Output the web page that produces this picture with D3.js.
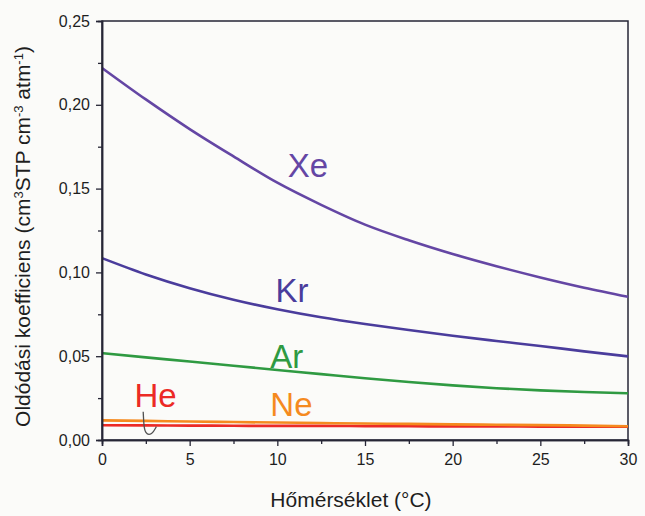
<!DOCTYPE html>
<html><head><meta charset="utf-8">
<script src="https://cdn.jsdelivr.net/npm/d3@7/dist/d3.min.js"></script>
<style>
html,body{margin:0;padding:0;background:#fbfbf9;}
svg{display:block;font-family:"Liberation Sans",Arial,sans-serif;}
</style></head>
<body><svg id="c" width="645" height="516"></svg>
<script>
// Data
const temps = [0, 2.5, 5, 7.5, 10, 12.5, 15, 17.5, 20, 22.5, 25, 27.5, 30];
const xeVals = [0.222, 0.2032, 0.1855, 0.1692, 0.1535, 0.1403, 0.1285, 0.1192, 0.111, 0.1037, 0.097, 0.0909, 0.0855];
const krVals = [0.1085, 0.0988, 0.0906, 0.0837, 0.0780, 0.0732, 0.0692, 0.0656, 0.0622, 0.0591, 0.0561, 0.0529, 0.0499];
const arVals = [0.0518, 0.0493, 0.0468, 0.0443, 0.0418, 0.0393, 0.0368, 0.0346, 0.0326, 0.0309, 0.0296, 0.0286, 0.0279];
const neVals = [0.0117, 0.0114, 0.0110, 0.0107, 0.0104, 0.0101, 0.0098, 0.0096, 0.0093, 0.0091, 0.0089, 0.0086, 0.0082];
const heVals = [0.0088, 0.0087, 0.0086, 0.0085, 0.0084, 0.0084, 0.0083, 0.0082, 0.0081, 0.0081, 0.0080, 0.0080, 0.0079];
const xTicks = [0, 5, 10, 15, 20, 25, 30];
const yTicks = [0, 0.05, 0.10, 0.15, 0.20, 0.25];
const seriesNames = ["He", "Ne", "Ar", "Kr", "Xe"];
const seriesColors = ["#ec2a25", "#f58a1f", "#2f9a42", "#4a3c9c", "#6446a4"];
// label anchor positions in data units
const labelT = [1.85, 9.6, 9.6, 9.9, 10.6];
const labelV = [0.0197, 0.0143, 0.0430, 0.0823, 0.1570];

const svg = d3.select("#c");
const m = {l:102, r:628, t:21, b:440};
const x = d3.scaleLinear().domain([0,30]).range([m.l, m.r]);
const y = d3.scaleLinear().domain([0,0.25]).range([m.b, m.t]);
const axisColor = "#262636";

const series = [heVals, neVals, arVals, krVals, xeVals];

// frame
svg.append("rect").attr("x", m.l).attr("y", m.t).attr("width", m.r-m.l).attr("height", m.b-m.t)
  .attr("fill","none").attr("stroke",axisColor).attr("stroke-width",1.5);

// lines
const line = d3.line().x((d,i)=>x(temps[i])).y(d=>y(d)).curve(d3.curveMonotoneX);
series.forEach((vals,i)=>{
  svg.append("path").datum(vals).attr("d", line).attr("fill","none")
    .attr("stroke", seriesColors[i]).attr("stroke-width", 2.6);
});

// axes
const xAxis = d3.axisBottom(x).tickValues(xTicks).tickSize(6).tickPadding(8).tickFormat(d3.format("d"));
const xMinor = d3.axisBottom(x).tickValues(d3.range(2.5,30,5)).tickSize(4).tickFormat("");
const yFmt = d => d3.format(".2f")(d).replace(".", ",");
const yAxis = d3.axisLeft(y).tickValues(yTicks).tickSize(6).tickPadding(6).tickFormat(yFmt);
const yMinor = d3.axisLeft(y).tickValues(d3.range(0.025,0.25,0.05)).tickSize(4).tickFormat("");

function style(g){
  g.select(".domain").attr("stroke",axisColor).attr("stroke-width",1.5);
  g.selectAll(".tick line").attr("stroke",axisColor).attr("stroke-width",1.3);
  g.selectAll(".tick text").attr("fill","#1e1e1e").style("font-size","16px")
    .style("font-family","'Liberation Sans',Arial,sans-serif");
}
svg.append("g").attr("transform",`translate(0,${m.b})`).call(xAxis).call(style);
svg.append("g").attr("transform",`translate(0,${m.b})`).call(xMinor).call(style);
svg.append("g").attr("transform",`translate(${m.l},0)`).call(yAxis).call(style);
svg.append("g").attr("transform",`translate(${m.l},0)`).call(yMinor).call(style);

// series labels
seriesNames.forEach((n,i)=>{
  svg.append("text").attr("x", x(labelT[i])).attr("y", y(labelV[i]))
    .attr("fill", seriesColors[i]).style("font-size","33px").text(n);
});

// hand-drawn pointer from He label to its line
const hook = d3.line().curve(d3.curveBasis)
  .x(d=>x(d[0])).y(d=>y(d[1]));
svg.append("path").datum([[2.35,0.0168],[2.38,0.0100],[2.45,0.0035],[2.85,0.0030],[3.1,0.0080]])
  .attr("d", hook).attr("fill","none").attr("stroke","#505050").attr("stroke-width",1.3);

// axis titles
svg.append("text").attr("x", 351).attr("y", 507).attr("text-anchor","middle")
  .attr("fill","#1e1e1e").style("font-size","21px").text("Hőmérséklet (°C)");

const yt = svg.append("text").attr("transform",`translate(30,${(m.t+m.b)/2 + 6}) rotate(-90)`)
  .attr("text-anchor","middle").attr("fill","#1e1e1e").style("font-size","21px");
yt.append("tspan").text("Oldódási koefficiens (cm");
yt.append("tspan").attr("baseline-shift","super").style("font-size","13px").text("3");
yt.append("tspan").text("STP cm");
yt.append("tspan").attr("baseline-shift","super").style("font-size","13px").text("-3");
yt.append("tspan").text(" atm");
yt.append("tspan").attr("baseline-shift","super").style("font-size","13px").text("-1");
yt.append("tspan").text(")");
</script></body></html>
